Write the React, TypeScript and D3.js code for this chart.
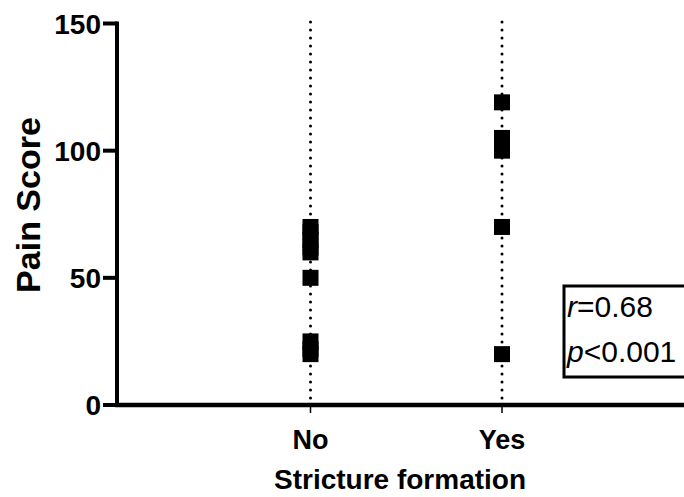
import React from "react";
import * as d3 from "d3";

const groups = ["No", "Yes"];
const noScores = [70, 68, 65, 62, 60, 50, 25, 22, 20];
const yesScores = [119, 105, 102, 100, 70, 20];
const yTicks = [0, 50, 100, 150];
const statLines = [
  { sym: "r", op: "=0.68" },
  { sym: "p", op: "<0.001" },
];

const W = 684;
const H = 497;
const FONT = "Liberation Sans, Arial, Helvetica, sans-serif";

export default function App() {
  const left = 117;
  const x = d3.scalePoint<string>().domain(groups).range([310.5, 502]);
  const y = d3.scaleLinear().domain([0, 150]).range([405, 23.5]);
  const sq = 16;
  const series = [
    { g: "No", vals: noScores },
    { g: "Yes", vals: yesScores },
  ];

  return (
    <svg
      width={W}
      height={H}
      style={{ position: "absolute", left: 0, top: 0, background: "#fff", fontFamily: FONT }}
    >
      {/* dotted guide lines per group */}
      {groups.map((g) => (
        <line
          key={"d" + g}
          x1={x(g)}
          x2={x(g)}
          y1={y(150) - 1.5}
          y2={y(0)}
          stroke="#000"
          strokeWidth={3}
          strokeDasharray="0 8"
          strokeLinecap="round"
        />
      ))}

      {/* points */}
      {series.map((s) =>
        s.vals.map((v, i) => (
          <rect
            key={s.g + i}
            x={(x(s.g) as number) - sq / 2}
            y={y(v) - sq / 2}
            width={sq}
            height={sq}
            fill="#000"
          />
        ))
      )}

      {/* y axis */}
      <line x1={left} x2={left} y1={y(150) - 2} y2={y(0) + 2} stroke="#000" strokeWidth={4} />
      {yTicks.map((t) => (
        <g key={t}>
          <line x1={left - 14} x2={left} y1={y(t)} y2={y(t)} stroke="#000" strokeWidth={4} />
          <text
            x={left - 16}
            y={y(t) + 10}
            textAnchor="end"
            fontSize={28}
            fontWeight="bold"
          >
            {t}
          </text>
        </g>
      ))}

      {/* x axis */}
      <line x1={left - 2} x2={W + 10} y1={y(0)} y2={y(0)} stroke="#000" strokeWidth={4.5} />
      {groups.map((g) => (
        <g key={"t" + g}>
          <line x1={x(g)} x2={x(g)} y1={y(0)} y2={y(0) + 8} stroke="#000" strokeWidth={1.5} />
          <text x={x(g)} y={449} textAnchor="middle" fontSize={27} fontWeight="bold">
            {g}
          </text>
        </g>
      ))}

      {/* axis titles */}
      <text x={400} y={489} textAnchor="middle" fontSize={28} fontWeight="bold">
        Stricture formation
      </text>
      <text
        transform={`translate(40, 205) rotate(-90)`}
        textAnchor="middle"
        fontSize={34}
        fontWeight="bold"
      >
        Pain Score
      </text>

      {/* statistics box */}
      <rect x={564} y={286} width={160} height={91} fill="#fff" stroke="#000" strokeWidth={3} />
      {statLines.map((s, i) => (
        <text key={s.sym} x={567} y={317 + i * 45} fontSize={30}>
          <tspan fontStyle="italic">{s.sym}</tspan>
          {s.op}
        </text>
      ))}
    </svg>
  );
}
